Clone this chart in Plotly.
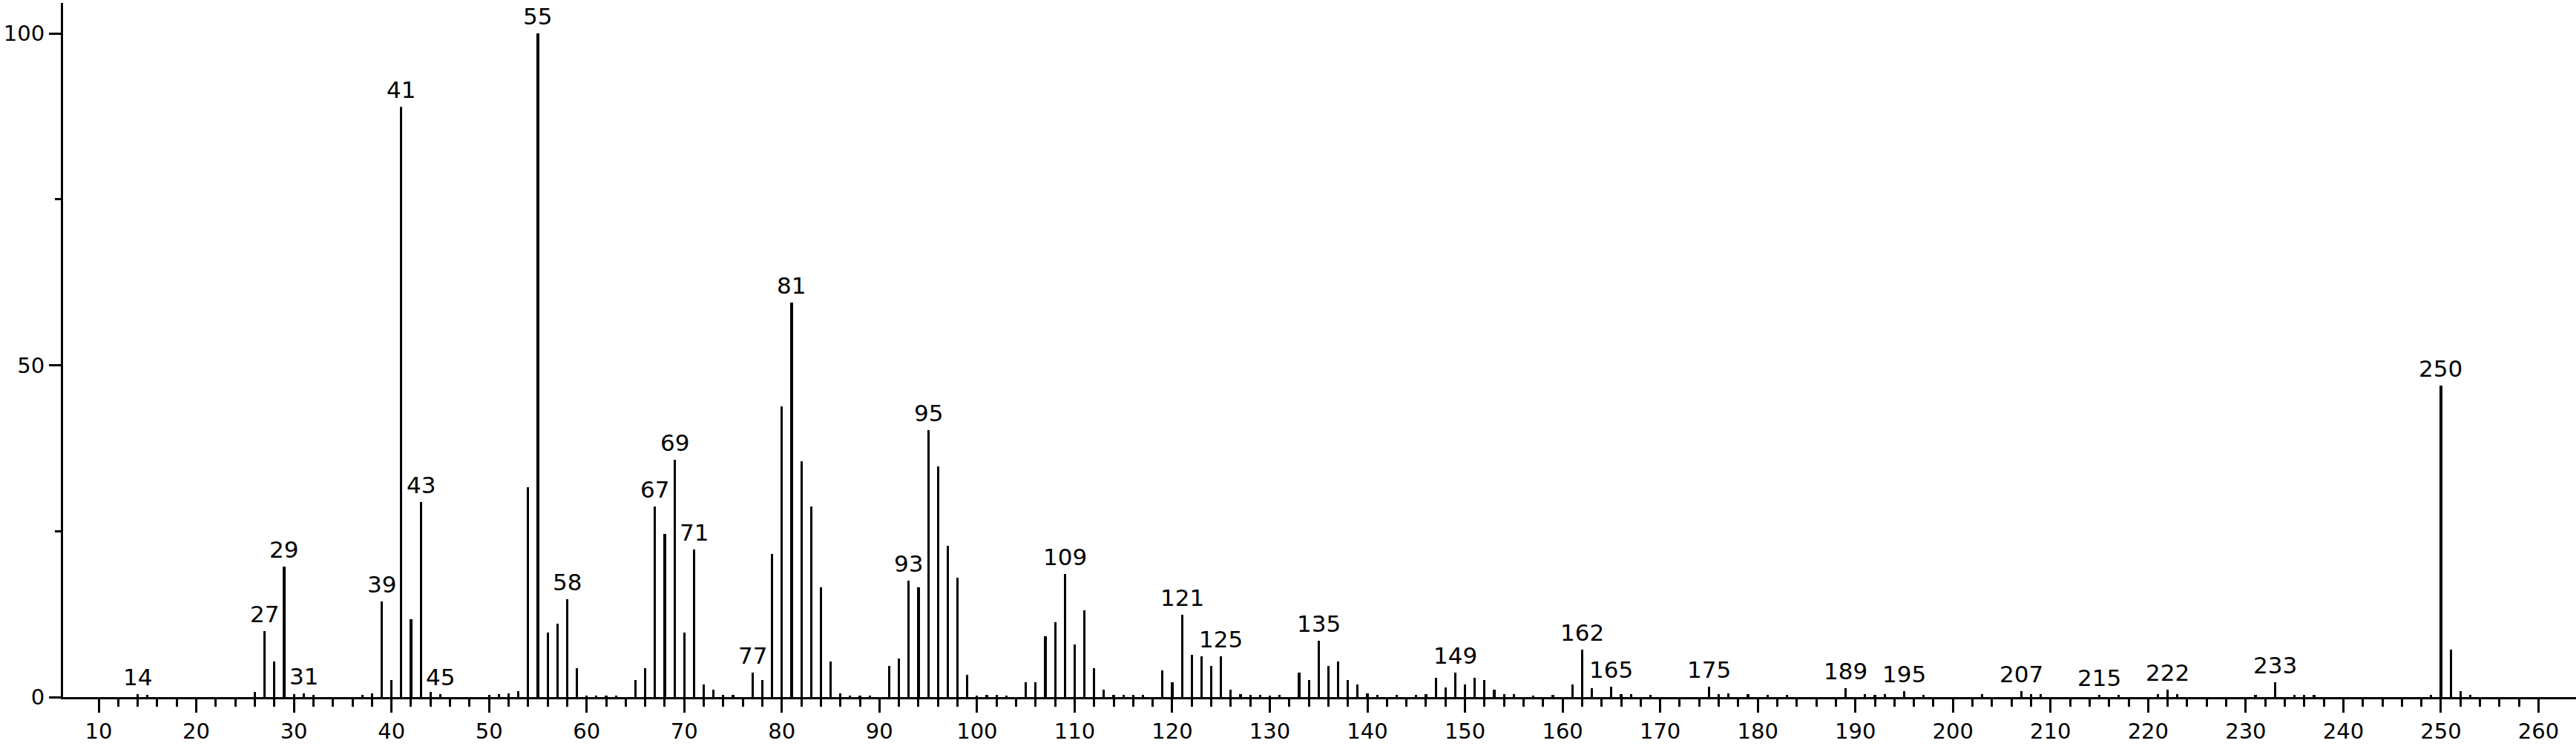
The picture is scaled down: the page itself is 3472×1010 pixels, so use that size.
import plotly.graph_objects as go

mz = [14, 15, 26, 27, 28, 29, 30, 31, 32, 37, 38, 39, 40, 41, 42, 43, 44, 45,
      50, 51, 52, 53, 54, 55, 56, 57, 58, 59, 60, 61, 62, 63, 65, 66, 67, 68, 69,
      70, 71, 72, 73, 74, 75, 77, 78, 79, 80, 81, 82, 83, 84, 85, 86, 87, 88, 89,
      91, 92, 93, 94, 95, 96, 97, 98, 99, 100, 101, 102, 103, 105, 106, 107, 108,
      109, 110, 111, 112, 113, 114, 115, 116, 117, 119, 120, 121, 122, 123, 124,
      125, 126, 127, 128, 129, 130, 131, 133, 134, 135, 136, 137, 138, 139, 140,
      141, 143, 145, 146, 147, 148, 149, 150, 151, 152, 153, 154, 155, 157, 159,
      161, 162, 163, 165, 166, 167, 169, 175, 176, 177, 179, 181, 183, 189, 191,
      192, 193, 195, 197, 203, 207, 208, 209, 215, 217, 221, 222, 223, 231, 233,
      235, 236, 237, 249, 250, 251, 252, 253]
abundance = [0.5, 0.3, 0.8, 9.9, 5.4, 19.7, 0.4, 0.6, 0.3, 0.3, 0.6, 14.4, 2.6, 89.0, 11.7, 29.4, 0.8, 0.5,
             0.3, 0.5, 0.6, 0.9, 31.6, 100.0, 9.7, 11.1, 14.8, 4.4, 0.2, 0.2, 0.2, 0.2, 2.6, 4.4, 28.7, 24.6, 35.8,
             9.7, 22.2, 1.9, 1.1, 0.3, 0.3, 3.7, 2.6, 21.6, 43.8, 59.5, 35.5, 28.7, 16.5, 5.4, 0.6, 0.2, 0.2, 0.2,
             4.7, 5.8, 17.6, 16.5, 40.2, 34.7, 22.8, 18.0, 3.3, 0.2, 0.3, 0.3, 0.2, 2.2, 2.2, 9.2, 11.3,
             18.6, 7.9, 13.1, 4.4, 1.1, 0.3, 0.3, 0.3, 0.3, 4.0, 2.2, 12.4, 6.4, 6.1, 4.7,
             6.1, 1.1, 0.4, 0.3, 0.3, 0.2, 0.3, 3.7, 2.6, 8.5, 4.7, 5.4, 2.6, 1.9, 0.6,
             0.3, 0.3, 0.3, 0.5, 2.9, 1.5, 3.7, 1.9, 2.9, 2.6, 1.1, 0.5, 0.4, 0.2, 0.3,
             1.9, 7.2, 1.3, 1.6, 0.4, 0.5, 0.3, 1.6, 0.4, 0.6, 0.5, 0.3, 0.3, 1.3, 0.5,
             0.3, 0.5, 0.9, 0.3, 0.4, 0.9, 0.4, 0.4, 0.3, 0.3, 0.5, 1.1, 0.4, 0.3, 2.2,
             0.3, 0.3, 0.3, 0.3, 46.9, 7.2, 0.9, 0.3]

labeled_mz = [14, 27, 29, 31, 39, 41, 43, 45, 55, 58, 67, 69, 71, 77, 81, 93, 95,
              109, 121, 125, 135, 149, 162, 165, 175, 189, 195, 207, 215, 222, 233, 250]

x_major_ticks = list(range(10, 261, 10))
x_minor_ticks = [v for v in range(12, 260, 2) if v % 10 != 0]
y_major_ticks = [0, 50, 100]
y_minor_ticks = [25, 75]

FONT = dict(family="DejaVu Sans", size=31, color="black")
XTICK_FONT = dict(family="DejaVu Sans", size=29, color="black")
YTICK_FONT = dict(family="DejaVu Sans", size=29, color="black")

fig = go.Figure()
fig.add_trace(go.Bar(x=mz, y=abundance, width=0.24,
                     marker=dict(color="black", line=dict(width=0)),
                     hoverinfo="x+y"))

lookup = dict(zip(mz, abundance))
for m in labeled_mz:
    fig.add_annotation(x=m, y=lookup[m], text=str(m), showarrow=False,
                       xanchor="center", yanchor="bottom", yshift=3, font=FONT)

fig.update_layout(
    width=3472, height=1010,
    margin=dict(l=85, r=0, t=4, b=70, autoexpand=False),
    paper_bgcolor="white", plot_bgcolor="white",
    showlegend=False, bargap=0,
    font=FONT,
    xaxis=dict(range=[6.35, 263.84], showgrid=False, zeroline=False,
               automargin=False,
               showline=True, linecolor="black", linewidth=3,
               tickmode="array", tickvals=x_major_ticks,
               ticktext=[str(v) for v in x_major_ticks],
               ticks="outside", ticklen=18, tickwidth=3, tickcolor="black",
               tickfont=XTICK_FONT,
               minor=dict(tickmode="array", tickvals=x_minor_ticks,
                          ticks="outside", ticklen=10, tickwidth=3,
                          tickcolor="black", showgrid=False)),
    yaxis=dict(range=[0, 104.6], showgrid=False, zeroline=False,
               automargin=False,
               showline=True, linecolor="black", linewidth=3,
               tickmode="array", tickvals=y_major_ticks,
               ticktext=[str(v) for v in y_major_ticks],
               ticks="outside", ticklen=16, tickwidth=3, tickcolor="black",
               tickfont=YTICK_FONT,
               minor=dict(tickmode="array", tickvals=y_minor_ticks,
                          ticks="outside", ticklen=8, tickwidth=3,
                          tickcolor="black", showgrid=False)),
)

fig.write_html("out.html", config={"displayModeBar": False},
               post_script="document.body.style.margin='0';document.body.style.overflow='hidden';")
